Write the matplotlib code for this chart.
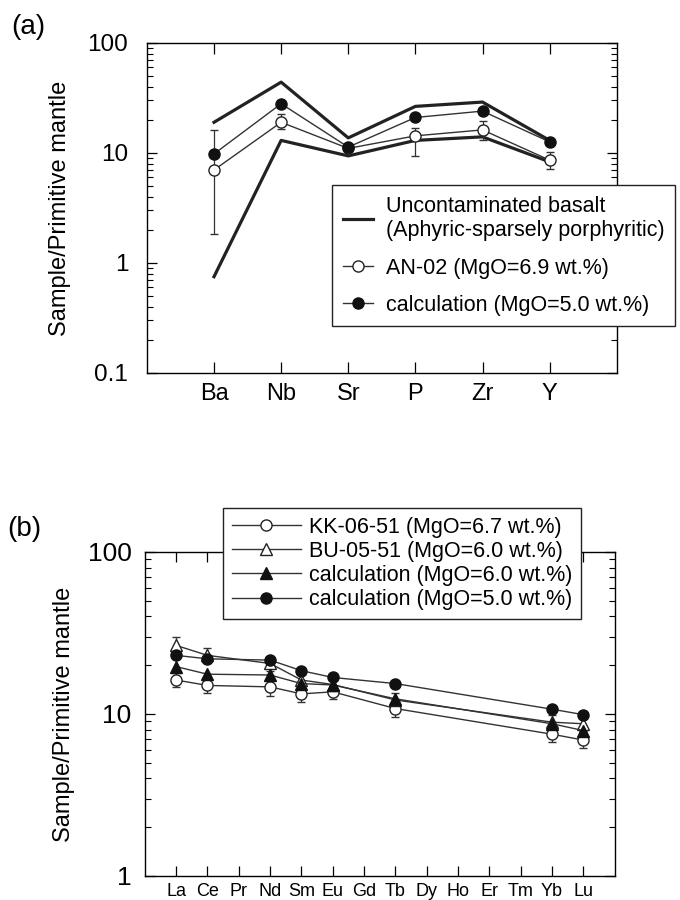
import matplotlib
matplotlib.use("Agg")
import matplotlib.pyplot as plt
from matplotlib.ticker import LogLocator, NullFormatter, FixedLocator

plt.rcParams['font.family'] = ['Liberation Sans', 'DejaVu Sans']

# panel (a): spider diagram
elems_a = ["Ba", "Nb", "Sr", "P", "Zr", "Y"]
basalt_hi = [19, 44, 13.7, 26.5, 29, 13]
basalt_lo = [0.75, 13, 9.4, 13, 14, 8.3]
an02 = [7.0, 19, 11.0, 14.3, 16.2, 8.6]
an02_lo = [1.85, 16.5, 10.3, 9.3, 13.2, 7.1]
an02_hi = [16.0, 22.5, 11.8, 17.0, 19.5, 10.3]
calc_a = [9.8, 28, 11.3, 21, 24, 12.6]

# panel (b): REE
elems_b = ["La", "Ce", "Pr", "Nd", "Sm", "Eu", "Gd", "Tb", "Dy", "Ho", "Er", "Tm", "Yb", "Lu"]
ree_pos = [1, 2, 4, 5, 6, 8, 13, 14]
kk = [16.2, 15.0, 14.7, 13.3, 13.7, 10.8, 7.5, 6.9]
kk_lo = [14.6, 13.5, 13.0, 11.9, 12.3, 9.6, 6.7, 6.2]
kk_hi = [17.8, 16.8, 16.4, 14.8, 15.2, 12.1, 8.4, 7.7]
bu = [26.5, 23, 20.5, 16.2, 15.2, 12.2, 8.9, 8.7]
bu_lo = [24.0, 21.0, 18.5, 14.6, 13.7, 11.0, 8.0, 7.8]
bu_hi = [30.0, 25.5, 22.5, 17.8, 16.8, 13.5, 9.9, 9.6]
calc6 = [19.6, 17.6, 17.4, 15.4, 15.1, 12.4, 8.7, 7.9]
calc5 = [23.0, 21.9, 21.5, 18.5, 16.8, 15.4, 10.7, 9.9]


def style_axis(ax, size):
    ax.set_yscale("log")
    ax.yaxis.set_minor_locator(LogLocator(base=10, subs=range(2, 10)))
    ax.yaxis.set_minor_formatter(NullFormatter())
    ax.tick_params(which="both", direction="in", top=True, right=True, labelsize=size)
    ax.tick_params(which="major", length=7, width=0.9)
    ax.tick_params(which="minor", length=4, width=0.8)
    for s in ax.spines.values():
        s.set_linewidth(1.0)


fig = plt.figure(figsize=(6.8, 9), dpi=100)

# ---- (a)
ax1 = fig.add_axes([0.216, 0.5856, 0.691, 0.3667])
style_axis(ax1, 17.5)
xa = list(range(1, len(elems_a) + 1))
ax1.plot(xa, basalt_hi, color="#222222", lw=2.3, label="Uncontaminated basalt\n(Aphyric-sparsely porphyritic)")
ax1.plot(xa, basalt_lo, color="#222222", lw=2.3)
err = [[v - l for v, l in zip(an02, an02_lo)], [h - v for v, h in zip(an02, an02_hi)]]
ax1.errorbar(xa, an02, yerr=err, fmt="none", ecolor="#333333", elinewidth=0.9, capsize=3)
ax1.plot(xa, an02, color="#333333", lw=1.0, marker="o", ms=8, mfc="white", mec="#222222",
         label="AN-02 (MgO=6.9 wt.%)")
ax1.plot(xa, calc_a, color="#333333", lw=1.0, marker="o", ms=8, mfc="#111111", mec="#111111",
         label="calculation (MgO=5.0 wt.%)")
ax1.set_xlim(0, 7)
ax1.set_ylim(0.1, 100)
ax1.xaxis.set_major_locator(FixedLocator(xa))
ax1.set_xticklabels(elems_a, fontsize=17)
ax1.set_yticks([0.1, 1, 10, 100])
ax1.set_yticklabels(["0.1", "1", "10", "100"])
ax1.tick_params(axis="x", which="major", length=8, pad=7)
ax1.tick_params(axis="y", pad=13.5)
ax1.set_ylabel("Sample/Primitive mantle", fontsize=17)
ax1.yaxis.set_label_coords(-0.162, 0.5)
leg1 = ax1.legend(loc="upper left", bbox_to_anchor=(0.488, 0.794), bbox_transform=fig.transFigure,
                  fontsize=15.5, handlelength=1.4, handletextpad=0.6, labelspacing=0.75,
                  fancybox=False, framealpha=1, edgecolor="#222222", borderpad=0.5,
                  borderaxespad=0)
leg1.get_frame().set_linewidth(1.0)
leg1.set_zorder(10)
fig.text(0.016, 0.962, "(a)", fontsize=20)

# ---- (b)
ax2 = fig.add_axes([0.213, 0.0267, 0.691, 0.36])
style_axis(ax2, 19)
xb = list(range(1, len(elems_b) + 1))
ekk = [[v - l for v, l in zip(kk, kk_lo)], [h - v for v, h in zip(kk, kk_hi)]]
ebu = [[v - l for v, l in zip(bu, bu_lo)], [h - v for v, h in zip(bu, bu_hi)]]
ax2.errorbar(ree_pos, kk, yerr=ekk, fmt="none", ecolor="#333333", elinewidth=0.9, capsize=3)
ax2.errorbar(ree_pos, bu, yerr=ebu, fmt="none", ecolor="#333333", elinewidth=0.9, capsize=3)
ax2.plot(ree_pos, kk, color="#333333", lw=1.0, marker="o", ms=8, mfc="white", mec="#222222",
         label="KK-06-51 (MgO=6.7 wt.%)")
ax2.plot(ree_pos, bu, color="#333333", lw=1.0, marker="^", ms=8.5, mfc="white", mec="#222222",
         label="BU-05-51 (MgO=6.0 wt.%)")
ax2.plot(ree_pos, calc6, color="#333333", lw=1.0, marker="^", ms=8.5, mfc="#111111", mec="#111111",
         label="calculation (MgO=6.0 wt.%)")
ax2.plot(ree_pos, calc5, color="#333333", lw=1.0, marker="o", ms=8, mfc="#111111", mec="#111111",
         label="calculation (MgO=5.0 wt.%)")
ax2.set_xlim(0, 15)
ax2.set_ylim(1, 100)
ax2.xaxis.set_major_locator(FixedLocator(xb))
ax2.set_xticklabels(elems_b, fontsize=13)
ax2.set_yticks([1, 10, 100])
ax2.set_yticklabels(["1", "10", "100"])
ax2.tick_params(axis="x", which="major", length=7, pad=5)
ax2.tick_params(axis="y", pad=9.5)
ax2.set_ylabel("Sample/Primitive mantle", fontsize=17)
ax2.yaxis.set_label_coords(-0.149, 0.5)
leg2 = ax2.legend(loc="upper left", bbox_to_anchor=(0.328, 0.4356), bbox_transform=fig.transFigure,
                  fontsize=15.5, handlelength=3.2, handletextpad=0.4, labelspacing=0.15,
                  fancybox=False, framealpha=1, edgecolor="#222222", borderpad=0.4,
                  borderaxespad=0)
leg2.get_frame().set_linewidth(1.0)
leg2.set_zorder(10)
fig.text(0.011, 0.405, "(b)", fontsize=20)

fig.savefig("out.png", dpi=100)
